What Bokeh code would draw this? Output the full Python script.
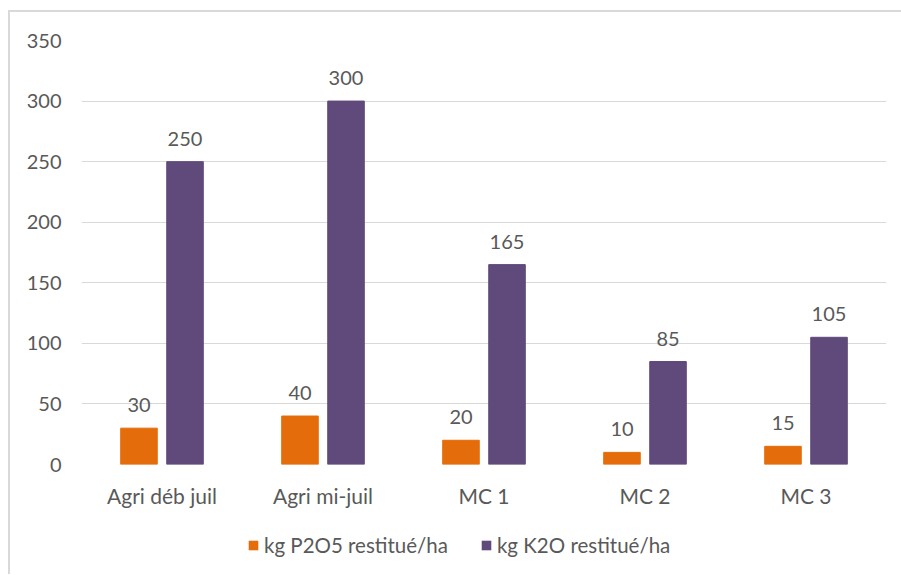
from bokeh.plotting import figure
from bokeh.layouts import column
from bokeh.models import (ColumnDataSource, FactorRange, Range1d, LabelSet,
                          Legend, LegendItem, FixedTicker)
from bokeh.core.properties import value
from bokeh.transform import dodge
from bokeh.embed import file_html
from bokeh.resources import INLINE

categories = ["Agri déb juil", "Agri mi-juil", "MC 1", "MC 2", "MC 3"]
p2o5 = [30, 40, 20, 10, 15]
k2o = [250, 300, 165, 85, 105]
series_names = ["kg P2O5 restitué/ha", "kg K2O restitué/ha"]
y_ticks = [0, 50, 100, 150, 200, 250, 300, 350]

FONT = "Lato"
TXT = "#595959"
ORANGE = "#E46C0A"
PURPLE = "#604A7B"
colors = [ORANGE, PURPLE]

src = ColumnDataSource(data=dict(
    cat=categories, p2o5=p2o5, k2o=k2o,
    p2o5_lbl=[str(v) for v in p2o5], k2o_lbl=[str(v) for v in k2o],
))

# ---- main chart ----
p = figure(x_range=FactorRange(factors=categories), y_range=Range1d(0, 350),
           width=891, height=502, output_backend="svg", toolbar_location=None,
           min_border_left=71, min_border_top=28, min_border_right=15,
           min_border_bottom=50)
p.outline_line_color = None
p.background_fill_color = "white"
p.border_fill_color = "white"

off = 0.143
bw = 0.227
p.vbar(x=dodge("cat", -off, range=p.x_range), top="p2o5", width=bw,
       source=src, fill_color=ORANGE, line_color=ORANGE)
p.vbar(x=dodge("cat", off, range=p.x_range), top="k2o", width=bw,
       source=src, fill_color=PURPLE, line_color=PURPLE)

for col, lbl, o in (("p2o5", "p2o5_lbl", -off), ("k2o", "k2o_lbl", off)):
    ls = LabelSet(x=dodge("cat", o, range=p.x_range), y=col, text=lbl, source=src,
                  y_offset=16, text_align="center", text_baseline="alphabetic",
                  text_font=value(FONT), text_font_size="20px", text_color=TXT)
    p.add_layout(ls)

p.yaxis.ticker = FixedTicker(ticks=y_ticks)
p.ygrid.ticker = FixedTicker(ticks=y_ticks)
p.ygrid.grid_line_color = "#d9d9d9"
p.ygrid.grid_line_width = 1
p.xgrid.grid_line_color = None

for ax in (p.xaxis[0], p.yaxis[0]):
    ax.axis_line_color = None
    ax.major_tick_line_color = None
    ax.minor_tick_line_color = None
    ax.major_tick_out = 0
    ax.major_tick_in = 0
    ax.minor_tick_out = 0
    ax.major_label_text_font = FONT
    ax.major_label_text_color = TXT
p.yaxis.major_label_text_font_size = "20px"
p.xaxis.major_label_text_font_size = "21px"
p.yaxis.major_label_standoff = 20
p.xaxis.major_label_standoff = 18

# ---- legend strip ----
lf = figure(width=891, height=60, output_backend="svg", toolbar_location=None,
            x_range=Range1d(0, 1), y_range=Range1d(0, 1),
            x_axis_location=None, y_axis_location=None, min_border=0)
lf.outline_line_color = None
lf.grid.visible = False
swatches = []
for c in colors:
    s = ColumnDataSource(data=dict(x=[0.5], top=[0]))
    swatches.append(lf.vbar(x="x", top="top", width=0.1, source=s,
                            fill_color=c, line_color=None))
legend = Legend(items=[LegendItem(label=n, renderers=[r])
                       for n, r in zip(series_names, swatches)],
                orientation="horizontal", location=(166, 17),
                glyph_width=12, glyph_height=12, label_standoff=5, spacing=32,
                padding=0, margin=0, border_line_color=None,
                background_fill_alpha=0, label_text_font=FONT,
                label_text_font_size="20.5px", label_text_color=TXT)
lf.add_layout(legend, "center")

layout = column(p, lf, spacing=0)
layout.styles = {"margin-left": "8px", "margin-top": "10px",
                 "border-top": "2px solid #d9d9d9",
                 "border-left": "2px solid #d9d9d9"}

open("out.html", "w").write(file_html(layout, INLINE))
